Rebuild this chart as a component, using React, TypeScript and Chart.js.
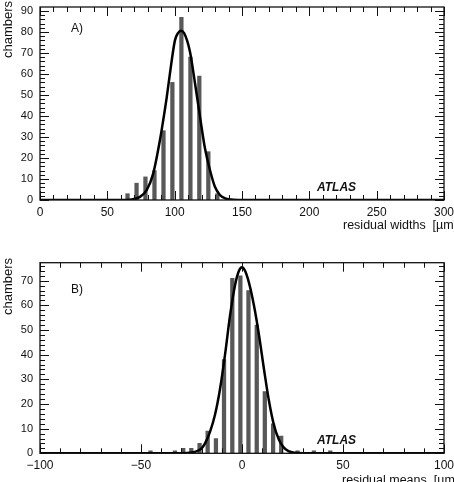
import { useEffect, useRef } from 'react';
import { Chart, registerables } from 'chart.js';

Chart.register(...registerables);

// A) residual widths per chamber [µm]
const widthBinCentres = [65, 71.7, 78.3, 85, 91.7, 98.3, 105, 111.7, 118.3, 125, 131.7];
const widthCounts = [3, 8, 11, 14, 33, 56, 87, 68, 59, 23, 3];
// Gaussian fit through the width histogram
const widthFitX = [0, 60, 68, 74.2, 79.2, 84.1, 89.1, 91.5, 94, 96.5, 100.2, 102.5, 104.5, 107, 111.4, 115.1, 118.8, 122.5, 126.2, 129.9, 133.6, 137.4, 142, 150, 300];
const widthFitY = [0, 0, 0.3, 1.5, 4.7, 12.7, 28.6, 38, 48.4, 60.3, 76, 79.5, 80.6, 79.5, 70.5, 55.6, 39.7, 24.6, 14.3, 6.3, 2.4, 0.8, 0.2, 0, 0];
const widthYTicks = [0, 10, 20, 30, 40, 50, 60, 70, 80, 90];

// B) residual means per chamber [µm]
const meanBinCentres = [-45.3, -33.2, -29.1, -25.1, -21.0, -17.0, -12.9, -8.9, -4.8, -0.8, 3.2, 7.3, 11.3, 15.4, 19.4, 27.5, 35.6, 43.7];
const meanCounts = [1, 1, 2, 2, 4, 9, 6, 38, 71, 72, 66, 52, 25, 12, 7, 1, 1, 1];
// Gaussian fit through the mean histogram
const meanFitX = [-100, -30, -25, -22, -20, -18.3, -15.8, -13.4, -10.9, -8.4, -5.9, -3.5, -1.5, 0, 1.5, 3.5, 5.9, 8.4, 10.9, 13.4, 15.8, 18.3, 20.5, 23, 26, 30, 100];
const meanFitY = [0, 0, 0.3, 1, 2, 4, 8.8, 15.5, 26, 40, 56, 68, 74, 75.5, 74, 69, 60, 48, 34, 21, 11.5, 5.5, 2.5, 0.9, 0.2, 0, 0];
const meanYTicks = [0, 10, 20, 30, 40, 50, 60, 70];

const FONT = "'Liberation Sans', Arial, Helvetica, sans-serif";

type PanelSpec = {
  bins: number[];
  counts: number[];
  fitX: number[];
  fitY: number[];
  yTicks: number[];
  xMin: number;
  xMax: number;
  xStep: number;
  xMinor: number;
  yMax: number;
  yMinor: number;
  tag: string;
  tagY: number;
  atlasY: number;
  xTitle: string;
  xTitleX: number;
  xTitleY: number;
  yTitleTop: number;
  padTop: number;
  axisH: number;
  height: number;
};

const fmt = (v: number) => (v < 0 ? '\u2212' + Math.abs(v) : String(v));

// Frame with inward ticks on all four sides, plus the panel annotations
const frameAndLabels = {
  id: 'frameAndLabels',
  afterDatasetsDraw(chart: any, _args: any, o: any) {
    const { ctx, chartArea: a, scales } = chart;
    const x = scales.x;
    const y = scales.y;
    ctx.save();
    ctx.strokeStyle = '#111';
    ctx.lineWidth = 1;
    ctx.beginPath();
    for (let v = o.xMin; v <= o.xMax + 1e-9; v += o.xMinor) {
      const px = Math.round(x.getPixelForValue(v)) + 0.5;
      const len = Math.abs(v % o.xStep) < 1e-6 ? 9 : 5;
      ctx.moveTo(px, a.bottom);
      ctx.lineTo(px, a.bottom - len);
      ctx.moveTo(px, a.top);
      ctx.lineTo(px, a.top + len);
    }
    for (let v = 0; v <= o.yMax + 1e-9; v += o.yMinor) {
      const py = Math.round(y.getPixelForValue(v)) + 0.5;
      const len = Math.abs(v % 10) < 1e-6 ? 9 : 5;
      ctx.moveTo(a.left, py);
      ctx.lineTo(a.left + len, py);
      ctx.moveTo(a.right, py);
      ctx.lineTo(a.right - len, py);
    }
    ctx.stroke();
    ctx.lineWidth = 1.3;
    ctx.strokeRect(a.left, a.top, a.right - a.left, a.bottom - a.top);

    ctx.fillStyle = '#111';
    ctx.textBaseline = 'alphabetic';
    ctx.textAlign = 'left';
    ctx.font = `12px ${FONT}`;
    ctx.fillText(o.tag, 71, o.tagY);
    ctx.font = `12.5px ${FONT}`;
    ctx.fillText(o.xTitle, o.xTitleX, o.xTitleY);
    ctx.font = `italic bold 12px ${FONT}`;
    ctx.fillText('ATLAS', 317, o.atlasY);

    ctx.font = `13px ${FONT}`;
    ctx.translate(12, o.yTitleTop);
    ctx.rotate(-Math.PI / 2);
    ctx.textAlign = 'right';
    ctx.fillText('chambers', 0, 0);
    ctx.restore();
  },
};

function Panel({ spec }: { spec: PanelSpec }) {
  const ref = useRef<HTMLCanvasElement | null>(null);
  useEffect(() => {
    if (!ref.current) return;
    const s = spec;
    const chart = new Chart(ref.current, {
      type: 'bar',
      data: {
        datasets: [
          {
            type: 'line',
            data: s.fitX.map((x, i) => ({ x, y: s.fitY[i] })),
            borderColor: '#000',
            borderWidth: 2.5,
            pointRadius: 0,
            cubicInterpolationMode: 'monotone',
            fill: false,
            order: 0,
          } as any,
          {
            type: 'bar',
            data: s.bins.map((x, i) => ({ x, y: s.counts[i] })),
            backgroundColor: '#585858',
            borderWidth: 0,
            barThickness: 3.6,
            order: 1,
          } as any,
        ],
      },
      options: {
        responsive: false,
        animation: false,
        layout: { padding: { left: 0, right: 10, top: s.padTop, bottom: 0 } },
        plugins: {
          legend: { display: false },
          tooltip: { enabled: false },
          frameAndLabels: {
            xMin: s.xMin,
            xMax: s.xMax,
            xStep: s.xStep,
            xMinor: s.xMinor,
            yMax: s.yMax,
            yMinor: s.yMinor,
            tag: s.tag,
            tagY: s.tagY,
            atlasY: s.atlasY,
            xTitle: s.xTitle,
            xTitleX: s.xTitleX,
            xTitleY: s.xTitleY,
            yTitleTop: s.yTitleTop,
          },
        } as any,
        scales: {
          x: {
            type: 'linear',
            min: s.xMin,
            max: s.xMax,
            offset: false,
            grid: { display: false, drawTicks: false },
            border: { display: false },
            ticks: {
              stepSize: s.xStep,
              padding: 5,
              maxRotation: 0,
              autoSkip: false,
              color: '#111',
              font: { family: FONT, size: 12 },
              callback: (v: any) => fmt(Number(v)),
            },
            afterFit: (sc: any) => {
              sc.height = s.axisH;
              sc.paddingLeft = 0;
              sc.paddingRight = 0;
            },
          },
          y: {
            type: 'linear',
            min: 0,
            max: s.yMax,
            grid: { display: false, drawTicks: false },
            border: { display: false },
            ticks: {
              padding: 7,
              autoSkip: false,
              color: '#111',
              font: { family: FONT, size: 11 },
            },
            afterBuildTicks: (sc: any) => {
              sc.ticks = s.yTicks.map((value) => ({ value }));
            },
            afterFit: (sc: any) => {
              sc.width = 40;
              sc.paddingTop = 0;
              sc.paddingBottom = 0;
            },
          },
        },
      } as any,
      plugins: [frameAndLabels],
    });
    return () => chart.destroy();
  }, [spec]);
  return (
    <canvas
      ref={ref}
      width={454}
      height={spec.height}
      style={{ display: 'block', width: 454, height: spec.height }}
    />
  );
}

const widthPanel: PanelSpec = {
  bins: widthBinCentres,
  counts: widthCounts,
  fitX: widthFitX,
  fitY: widthFitY,
  yTicks: widthYTicks,
  xMin: 0,
  xMax: 300,
  xStep: 50,
  xMinor: 10,
  yMax: 91.9,
  yMinor: 2,
  tag: 'A)',
  tagY: 32,
  atlasY: 191,
  xTitle: 'residual widths  [\u00b5m]',
  xTitleX: 343,
  xTitleY: 229,
  yTitleTop: 1,
  padTop: 7,
  axisH: 40,
  height: 240,
};

const meanPanel: PanelSpec = {
  bins: meanBinCentres,
  counts: meanCounts,
  fitX: meanFitX,
  fitY: meanFitY,
  yTicks: meanYTicks,
  xMin: -100,
  xMax: 100,
  xStep: 50,
  xMinor: 10,
  yMax: 77.3,
  yMinor: 2,
  tag: 'B)',
  tagY: 53,
  atlasY: 204,
  xTitle: 'residual means  [\u00b5m]',
  xTitleX: 342,
  xTitleY: 244,
  yTitleTop: 18,
  padTop: 22.7,
  axisH: 28.7,
  height: 242,
};

export default function App() {
  return (
    <div style={{ position: 'absolute', left: 0, top: 0, width: 454, height: 482, background: '#fff', overflow: 'hidden' }}>
      <Panel spec={widthPanel} />
      <Panel spec={meanPanel} />
    </div>
  );
}
